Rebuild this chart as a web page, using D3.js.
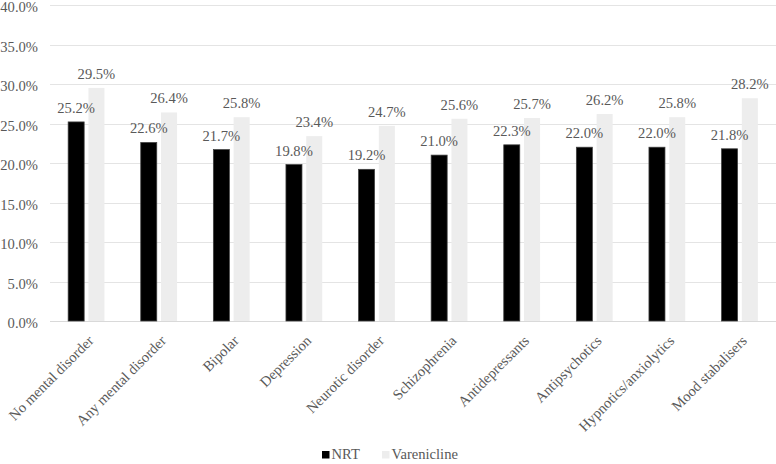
<!DOCTYPE html>
<html>
<head>
<meta charset="utf-8">
<script src="https://cdn.jsdelivr.net/npm/d3@7"></script>
<style>
body{margin:0;background:#fff;}
</style>
</head>
<body>
<div id="chart"></div>
<script>
let categories=["No mental disorder","Any mental disorder","Bipolar","Depression","Neurotic disorder","Schizophrenia","Antidepressants","Antipsychotics","Hypnotics/anxiolytics","Mood stabalisers"];
let nrt=[25.2,22.6,21.7,19.8,19.2,21.0,22.3,22.0,22.0,21.8];
let varenicline=[29.5,26.4,25.8,23.4,24.7,25.6,25.7,26.2,25.8,28.2];
let yTicks=[0,5,10,15,20,25,30,35,40];
let groups=["NRT","Varenicline"];

let width=776,height=464;
let plotLeft=50,plotRight=776,plotTop=5,plotBottom=321;
let fs=14.6;
let font="'Liberation Serif', serif";
let textColor="#595959";

let svg=d3.select("#chart").append("svg").attr("width",width).attr("height",height)
	.attr("font-family",font).attr("font-size",fs).attr("fill",textColor);

let x=d3.scaleBand().domain(categories).range([plotLeft,plotRight]).paddingInner(0).paddingOuter(0);
let y=d3.scaleLinear().domain([0,40]).range([plotBottom,plotTop]);
let xSub=d3.scaleBand().domain(groups).range([0,x.bandwidth()*0.5]).paddingInner(0.21);
let color=d3.scaleOrdinal().domain(groups).range(["#000000","#ededed"]);

// gridlines
svg.append("g").selectAll("line").data(yTicks).join("line")
	.attr("x1",plotLeft).attr("x2",plotRight)
	.attr("y1",d=>Math.round(y(d))+0.5).attr("y2",d=>Math.round(y(d))+0.5)
	.attr("stroke",d=>d==0?"#d9d9d9":"#e4e4e4").attr("stroke-width",1);

// y axis labels
svg.append("g").selectAll("text").data(yTicks).join("text")
	.attr("x",plotLeft-12).attr("y",d=>y(d)).attr("dy","0.5em")
	.attr("text-anchor","end").attr("font-family",font).attr("fill",textColor)
	.text(d=>d.toFixed(1)+"%");

let rows=[];
categories.forEach((c,i)=>{
	rows.push({cat:c,g:"NRT",v:nrt[i]});
	rows.push({cat:c,g:"Varenicline",v:varenicline[i]});
});

let off=x.bandwidth()*0.25;

svg.append("g").selectAll("rect").data(rows).join("rect")
	.attr("x",d=>x(d.cat)+off+xSub(d.g))
	.attr("y",d=>y(d.v))
	.attr("width",xSub.bandwidth())
	.attr("height",d=>plotBottom-y(d.v))
	.attr("fill",d=>color(d.g))
	.attr("stroke",d=>d.g=="NRT"?"#404040":"none")
	.attr("stroke-width",0.75);

// value labels
svg.append("g").selectAll("text").data(rows).join("text")
	.attr("x",d=>x(d.cat)+off+xSub(d.g)+xSub.bandwidth()/2)
	.attr("y",d=>y(d.v)-9)
	.attr("text-anchor","middle").attr("font-family",font).attr("fill",textColor)
	.text(d=>d.v.toFixed(1)+"%");

// category labels
svg.append("g").selectAll("text").data(categories).join("text")
	.attr("transform",d=>"translate("+(x(d)+x.bandwidth()/2+4.5)+","+(plotBottom+17)+") rotate(-45)")
	.attr("text-anchor","end").attr("dy","0.35em").attr("font-family",font).attr("fill",textColor)
	.text(d=>d);

// legend
let legendX=[322,382];
let legend=svg.append("g");
groups.forEach((g,i)=>{
	legend.append("rect").attr("x",legendX[i]).attr("y",451).attr("width",7.5).attr("height",7.5).attr("fill",color(g));
	legend.append("text").attr("x",legendX[i]+9.5).attr("y",459).attr("font-family",font).attr("fill",textColor).text(g);
});
</script>
</body>
</html>
